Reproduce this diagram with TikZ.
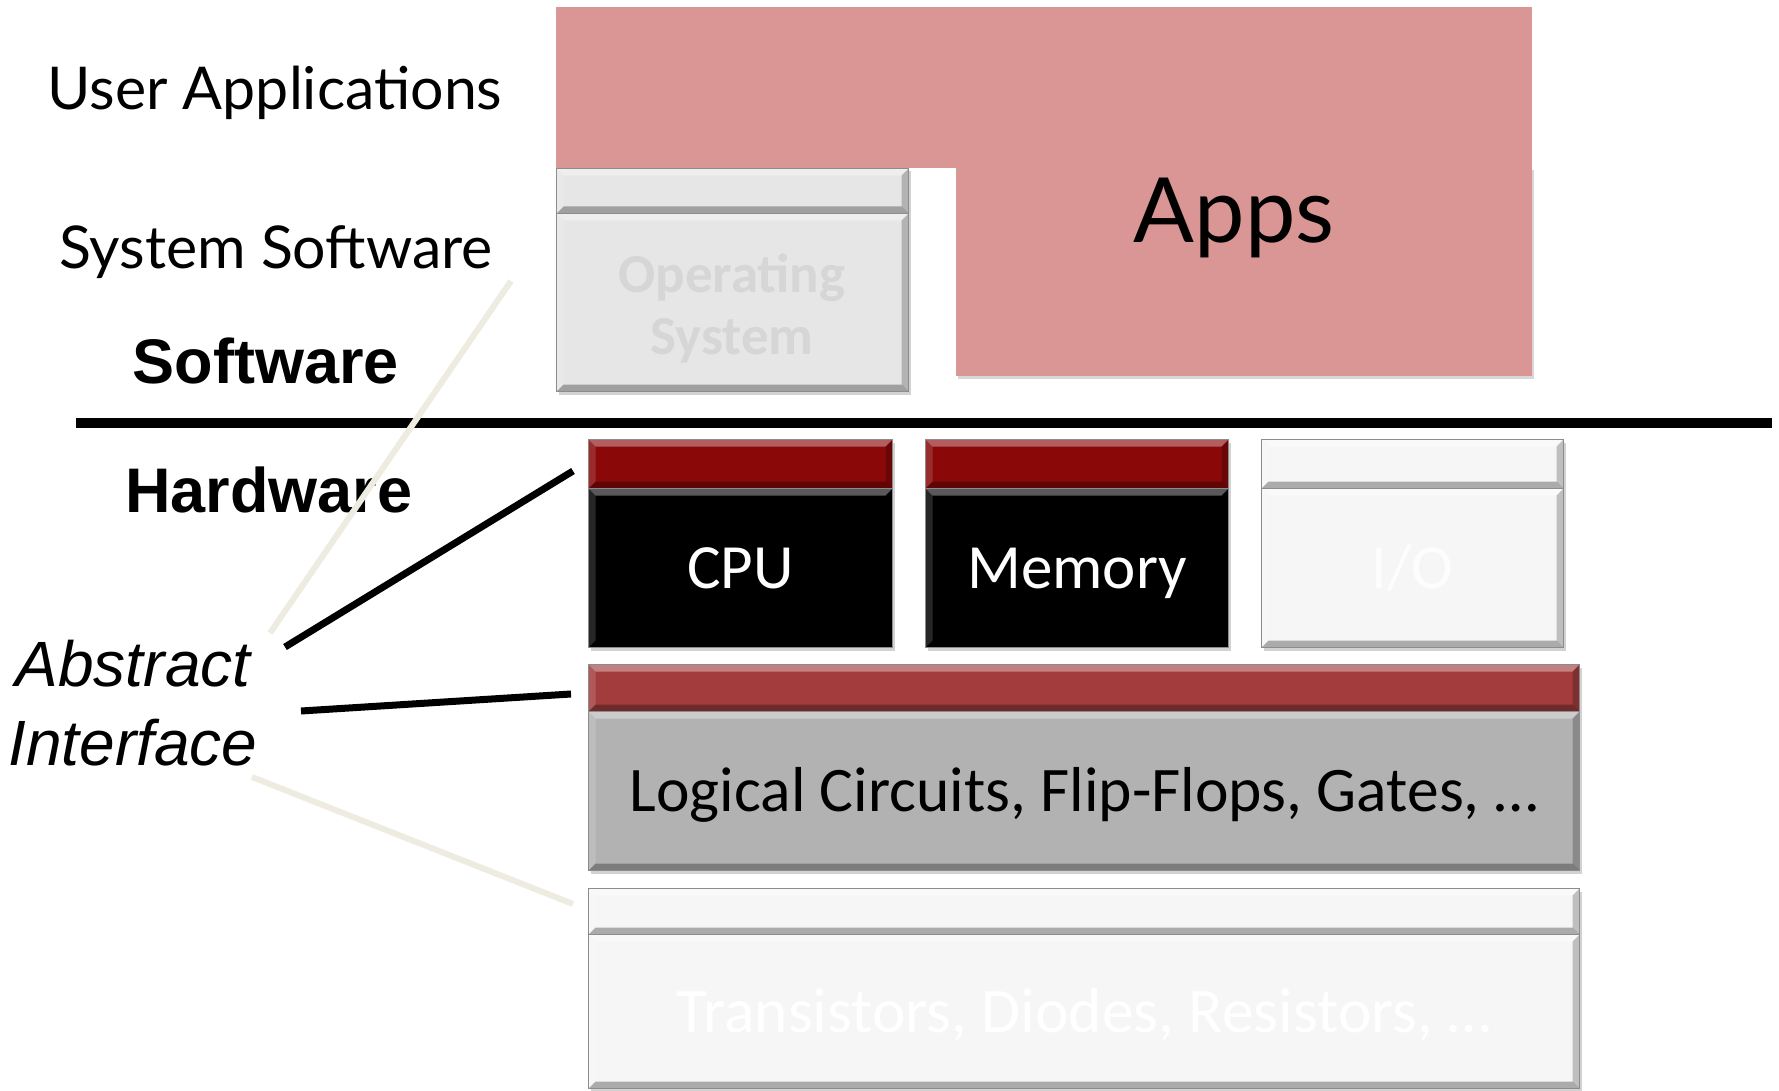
\documentclass[tikz,border=0pt]{standalone}
\usepackage{fontspec}
\setmainfont{Liberation Sans}
\newfontfamily\humfont{Lato}
\newfontfamily\calfont{Carlito}
\usetikzlibrary{shadows}

\definecolor{apppink}{HTML}{D99694}
\definecolor{osgray}{HTML}{E6E6E6}
\definecolor{ostext}{HTML}{D6D6D6}
\definecolor{cpured}{HTML}{8A0808}
\definecolor{logicred}{HTML}{A33D3D}
\definecolor{logicgray}{HTML}{B2B2B2}
\definecolor{iogray}{HTML}{F6F6F6}
\definecolor{iotext}{HTML}{FDFDFD}
\definecolor{cream}{HTML}{EEECE1}

\tikzset{
  bevel/.style={path picture={
    \coordinate (pNW) at (path picture bounding box.north west);
    \coordinate (pNE) at (path picture bounding box.north east);
    \coordinate (pSW) at (path picture bounding box.south west);
    \coordinate (pSE) at (path picture bounding box.south east);
    \fill[white,opacity=.35] (pNW) -- (pNE) -- ([xshift=-7pt,yshift=-7pt]pNE) -- ([xshift=7pt,yshift=-7pt]pNW) -- cycle;
    \fill[white,opacity=.15] (pNW) -- (pSW) -- ([xshift=7pt,yshift=7pt]pSW) -- ([xshift=7pt,yshift=-7pt]pNW) -- cycle;
    \fill[black,opacity=.30] (pSW) -- (pSE) -- ([xshift=-7pt,yshift=7pt]pSE) -- ([xshift=7pt,yshift=7pt]pSW) -- cycle;
    \fill[black,opacity=.22] (pNE) -- (pSE) -- ([xshift=-7pt,yshift=7pt]pSE) -- ([xshift=-7pt,yshift=-7pt]pNE) -- cycle;
  }},
  layer/.style={draw=black!45, line width=1pt, inner sep=0pt, anchor=north west,
    bevel, drop shadow={shadow xshift=2pt,shadow yshift=-3pt,opacity=.35}},
  boxtext/.style={font=\calfont\fontsize{63}{70}\selectfont, text height=50pt, text depth=9pt},
  widetext/.style={font=\calfont\fontsize{63.5}{70}\selectfont},
  sidelabel/.style={font=\humfont\fontsize{59}{66}\selectfont},
  realm/.style={font=\bfseries\fontsize{63}{70}\selectfont},
  pointer/.style={line width=7pt},
  lightpointer/.style={line width=6pt, draw=cream},
}

\begin{document}
\begin{tikzpicture}[x=1pt,y=-1pt]
\useasboundingbox[fill=white] (0,0) rectangle (1779,1091);

% software layers
\node[anchor=north west, fill=apppink, inner sep=0pt, minimum width=576pt, minimum height=209pt,
      drop shadow={shadow xshift=2pt,shadow yshift=-3pt,opacity=.3}] (apps) at (956,167) {};
\node[anchor=north west, fill=apppink, inner sep=0pt, minimum width=976pt, minimum height=161pt] (userband) at (556,7) {};
\node[font=\humfont\fontsize{90}{100}\selectfont] (appstext) at (1234,218) {Apps};

\node[layer, fill=osgray, minimum width=352pt, minimum height=45pt] (ostop) at (556,168) {};
\node[layer, fill=osgray, minimum width=352pt, minimum height=178pt] (os) at (556,213) {};
\node[text=ostext, align=center, font=\calfont\bfseries\fontsize{55}{62}\selectfont] (oslabel) at (732,308) {Operating\\System};

% hardware layers
\node[layer, fill=cpured, minimum width=304pt, minimum height=49pt] (cputop) at (588,439) {};
\node[layer, fill=black, text=white, boxtext, minimum width=304pt, minimum height=159pt] (cpu) at (588,488) {CPU};

\node[layer, fill=cpured, minimum width=303pt, minimum height=49pt] (memtop) at (925,439) {};
\node[layer, fill=black, text=white, boxtext, minimum width=303pt, minimum height=159pt] (mem) at (925,488) {Memory};

\node[layer, fill=iogray, minimum width=302pt, minimum height=49pt] (iotop) at (1261,439) {};
\node[layer, fill=iogray, text=iotext, boxtext, minimum width=302pt, minimum height=159pt] (io) at (1261,488) {I/O};

\node[layer, fill=logicred, minimum width=991pt, minimum height=47pt] (logictop) at (588,664) {};
\node[layer, fill=logicgray, text=black, boxtext, widetext,
      minimum width=991pt, minimum height=159pt] (logic) at (588,711) {Logical Circuits, Flip-Flops, Gates, \dots};

\node[layer, fill=iogray, minimum width=991pt, minimum height=46pt] (devtop) at (588,888) {};
\node[layer, fill=iogray, text=white, boxtext, widetext,
      minimum width=991pt, minimum height=154pt] (dev) at (588,934) {Transistors, Diodes, Resistors, \dots};

% labels on the left
\node[sidelabel] (userlbl) at (275,93) {User Applications};
\node[sidelabel] (syslbl) at (276,252) {System Software};
\node[realm] (swlbl) at (266,361) {Software};
\node[realm] (hwlbl) at (269,490) {Hardware};
\node[font=\itshape\fontsize{64}{79}\selectfont, align=center] (abstract) at (133,703) {Abstract\\Interface};

% software / hardware divide
\coordinate (divL) at (76,423);
\coordinate (divR) at (1772,423);
\draw[line width=10pt] (divL) -- (divR);

% pointers to the interfaces
\coordinate (p1a) at (285,647);  \coordinate (p1b) at (573,471);
\coordinate (p2a) at (301,711);  \coordinate (p2b) at (571,694);
\coordinate (p3a) at (270,633);  \coordinate (p3b) at (511,281);
\coordinate (p4a) at (252,777);  \coordinate (p4b) at (573,904);
\draw[pointer] (p1a) -- (p1b);
\draw[pointer] (p2a) -- (p2b);
\draw[lightpointer] (p3a) -- (p3b);
\draw[lightpointer] (p4a) -- (p4b);
\end{tikzpicture}
\end{document}
